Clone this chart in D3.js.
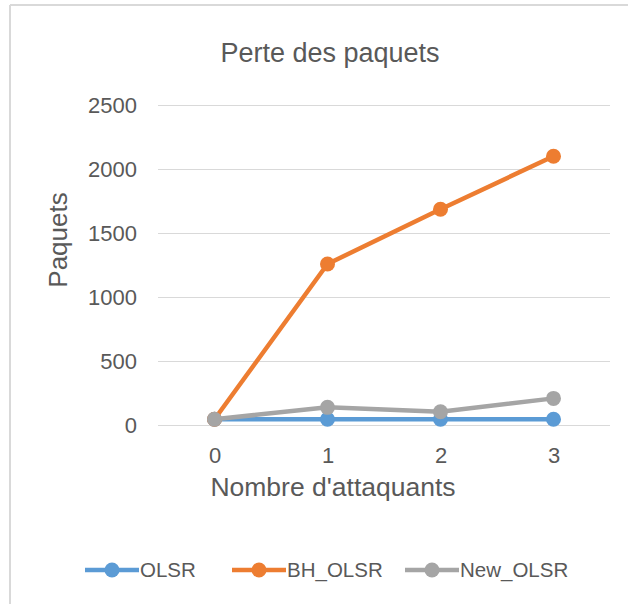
<!DOCTYPE html>
<html>
<head>
<meta charset="utf-8">
<script src="https://cdn.jsdelivr.net/npm/d3@7/dist/d3.min.js"></script>
<style>
  html, body { margin: 0; padding: 0; background: #fff; }
  svg { display: block; }
  text { font-family: "Liberation Sans", Arial, sans-serif; fill: #595959; }
</style>
</head>
<body>
<svg id="chart" width="628" height="604"></svg>
<script>
const categories = ["0", "1", "2", "3"];
const seriesNames = ["OLSR", "BH_OLSR", "New_OLSR"];
const olsr = [45, 45, 45, 45];
const bhOlsr = [45, 1258, 1685, 2100];
const newOlsr = [45, 138, 104, 208];
const yTicks = [0, 500, 1000, 1500, 2000, 2500];
const colors = ["#5B9BD5", "#ED7D31", "#A5A5A5"];

const series = [olsr, bhOlsr, newOlsr].map((vals, i) => ({ name: seriesNames[i], values: vals, color: colors[i] }));

const svg = d3.select("#chart");

// chart frame
svg.append("line").attr("x1", 10).attr("x2", 628).attr("y1", 5).attr("y2", 5)
  .attr("stroke", "#d9d9d9").attr("stroke-width", 2);
svg.append("line").attr("x1", 10).attr("x2", 10).attr("y1", 5).attr("y2", 604)
  .attr("stroke", "#d9d9d9").attr("stroke-width", 2);

const plot = { left: 158, right: 610, top: 105, bottom: 425 };

const x = d3.scalePoint().domain(categories).range([plot.left, plot.right]).padding(0.5);
const y = d3.scaleLinear().domain([0, 2500]).range([plot.bottom, plot.top]);

// gridlines
svg.append("g").selectAll("line").data(yTicks).join("line")
  .attr("x1", plot.left).attr("x2", plot.right)
  .attr("y1", d => y(d) + 0.5).attr("y2", d => y(d) + 0.5)
  .attr("stroke", "#d9d9d9").attr("stroke-width", 1);

// y axis tick labels
const yAxis = d3.axisLeft(y).tickValues(yTicks).tickSize(0).tickPadding(0).tickFormat(d3.format("d"));
const gy = svg.append("g").attr("transform", `translate(${plot.left - 21},0)`).call(yAxis);
gy.select(".domain").remove();
gy.selectAll("text").attr("font-size", 22).attr("fill", "#595959")
  .attr("font-family", "'Liberation Sans', Arial, sans-serif").attr("dy", "0.36em");

// x axis tick labels
const xAxis = d3.axisBottom(x).tickSize(0).tickPadding(0);
const gx = svg.append("g").attr("transform", `translate(0,${plot.bottom + 22})`).call(xAxis);
gx.select(".domain").remove();
gx.selectAll("text").attr("font-size", 22).attr("fill", "#595959")
  .attr("font-family", "'Liberation Sans', Arial, sans-serif").attr("dy", "0.71em");

// lines
const line = d3.line().x((d, i) => x(categories[i])).y(d => y(d));
const gs = svg.append("g").selectAll("g").data(series).join("g");
gs.append("path").attr("d", d => line(d.values)).attr("fill", "none")
  .attr("stroke", d => d.color).attr("stroke-width", 4.5).attr("stroke-linejoin", "round");
gs.selectAll("circle").data(d => d.values.map(v => ({ v, color: d.color }))).join("circle")
  .attr("cx", (d, i) => x(categories[i])).attr("cy", d => y(d.v)).attr("r", 7.5)
  .attr("fill", d => d.color);

// title
svg.append("text").attr("x", 330).attr("y", 62).attr("text-anchor", "middle")
  .attr("font-size", 27).text("Perte des paquets");

// axis titles
svg.append("text").attr("x", 333).attr("y", 496).attr("text-anchor", "middle")
  .attr("font-size", 26.5).text("Nombre d'attaquants");
svg.append("text").attr("transform", "translate(67,240) rotate(-90)").attr("text-anchor", "middle")
  .attr("font-size", 26).text("Paquets");

// legend
const legendX = [85, 232, 405];
const lg = svg.append("g").selectAll("g").data(series).join("g")
  .attr("transform", (d, i) => `translate(${legendX[i]},570)`);
lg.append("line").attr("x1", 0).attr("x2", 54).attr("y1", 0).attr("y2", 0)
  .attr("stroke", d => d.color).attr("stroke-width", 4.5);
lg.append("circle").attr("cx", 27).attr("cy", 0).attr("r", 7.5).attr("fill", d => d.color);
lg.append("text").attr("x", 55).attr("y", 0).attr("dy", "0.36em").attr("font-size", 20.5)
  .text(d => d.name);
</script>
</body>
</html>
